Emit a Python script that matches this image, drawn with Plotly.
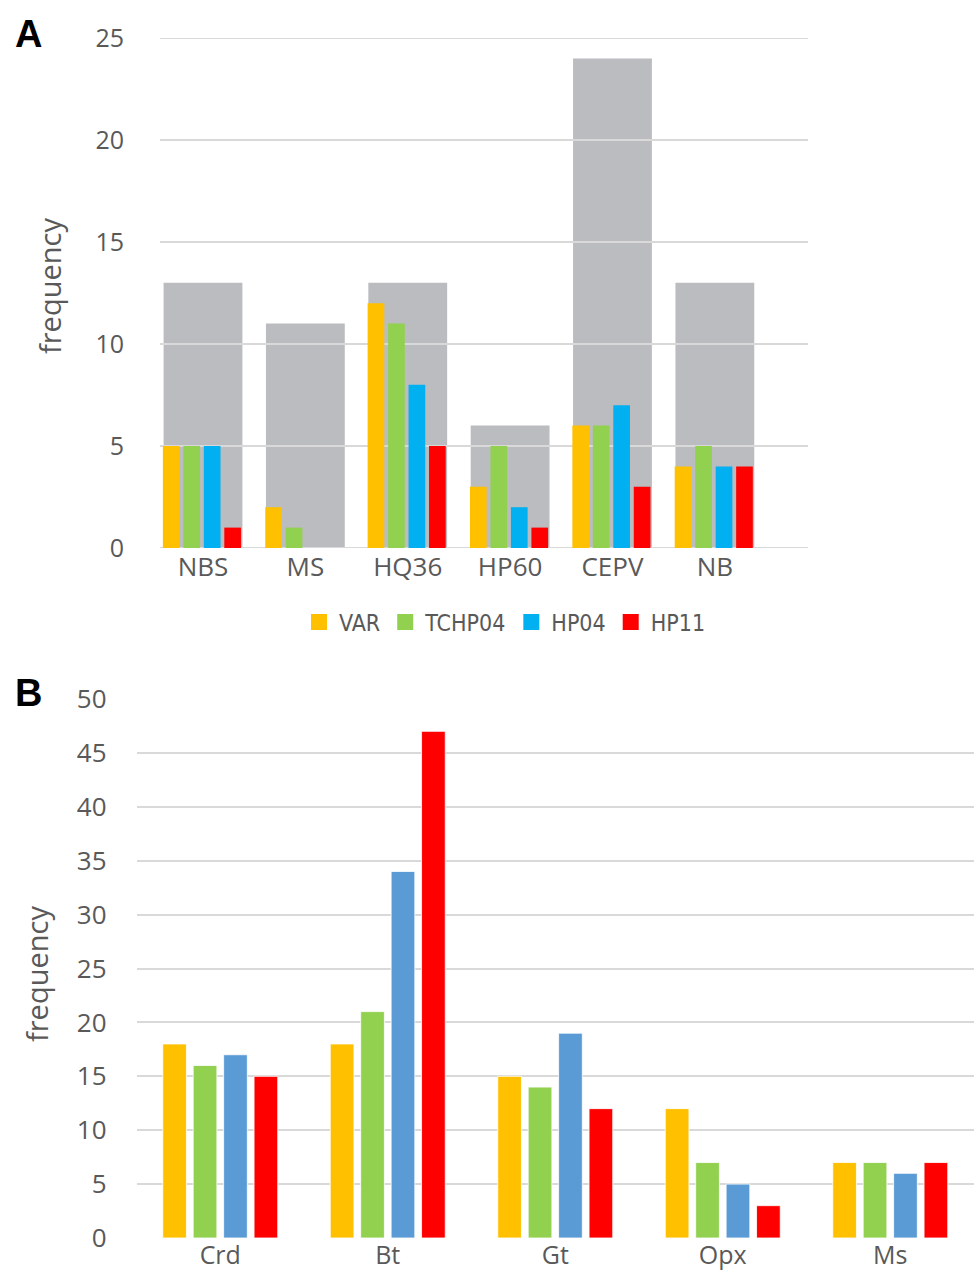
import plotly.graph_objects as go

# ---------------- data ----------------
cats_a = ["NBS", "MS", "HQ36", "HP60", "CEPV", "NB"]
total_a = [13, 11, 13, 6, 24, 13]
var_a = [5, 2, 12, 3, 6, 4]
tchp04_a = [5, 1, 11, 5, 6, 5]
hp04_a = [5, 0, 8, 2, 7, 4]
hp11_a = [1, 0, 5, 1, 3, 4]
yticks_a = [0, 5, 10, 15, 20, 25]

cats_b = ["Crd", "Bt", "Gt", "Opx", "Ms"]
var_b = [18, 18, 15, 12, 7]
tchp04_b = [16, 21, 14, 7, 7]
hp04_b = [17, 34, 19, 5, 6]
hp11_b = [15, 47, 12, 3, 7]
yticks_b = [0, 5, 10, 15, 20, 25, 30, 35, 40, 45, 50]

series_names = ["VAR", "TCHP04", "HP04", "HP11"]
colors_a = ["#FFC000", "#92D050", "#00B0F0", "#FF0000"]
colors_b = ["#FFC000", "#92D050", "#5B9BD5", "#FF0000"]
gray = "#BBBCBF"
grid = "#D9D9D9"
txt = "#595959"

W, H = 975, 1273
def py(p):  # pixel from top -> paper fraction
    return 1 - p / H
def px(p):
    return p / W

xa_range = [-0.42, 5.91]
xb_range = [-0.5, 4.5]

fig = go.Figure()

# ---------- panel A ----------
xa = list(range(len(cats_a)))
fig.add_trace(go.Bar(x=xa, y=total_a, width=0.77, offset=-0.385,
                     marker=dict(color=gray, line=dict(width=0)),
                     showlegend=False, xaxis="x", yaxis="y", hoverinfo="skip"))
# gridlines drawn above the grey bars (below the coloured ones)
gx, gy = [], []
for t in yticks_a:
    gx += [xa_range[0], xa_range[1], None]
    gy += [t, t, None]
fig.add_trace(go.Scatter(x=gx, y=gy, mode="lines", line=dict(color=grid, width=2),
                         showlegend=False, hoverinfo="skip", cliponaxis=False,
                         xaxis="x", yaxis="y"))
vals_a = [var_a, tchp04_a, hp04_a, hp11_a]
for k, (name, vals, c) in enumerate(zip(series_names, vals_a, colors_a)):
    fig.add_trace(go.Bar(x=xa, y=vals, name=name, width=0.163,
                         offset=-0.392 + k * 0.2,
                         marker=dict(color=c, line=dict(width=0)),
                         showlegend=False, xaxis="x3", yaxis="y"))
    fig.add_trace(go.Scatter(x=[None], y=[None], mode="markers", name=name,
                             marker=dict(symbol="square", size=20, color=c),
                             showlegend=True, xaxis="x3", yaxis="y"))

# ---------- panel B ----------
xb = list(range(len(cats_b)))
vals_b = [var_b, tchp04_b, hp04_b, hp11_b]
for k, (name, vals, c) in enumerate(zip(series_names, vals_b, colors_b)):
    fig.add_trace(go.Bar(x=xb, y=vals, name=name, width=0.1415,
                         offset=-0.3433 + k * 0.1817,
                         marker=dict(color=c, line=dict(width=1, color="rgba(255,255,255,0.8)")),
                         showlegend=False, xaxis="x2", yaxis="y2"))

tickfont_a = dict(family="Open Sans", size=25, color=txt)
tickfont_b = dict(family="Open Sans", size=26, color=txt)

fig.update_layout(
    width=W, height=H,
    margin=dict(l=0, r=0, t=0, b=0, pad=0, autoexpand=False),
    paper_bgcolor="white", plot_bgcolor="rgba(0,0,0,0)",
    barmode="overlay",
    showlegend=True,
    legend=dict(orientation="h", x=px(505), xanchor="center", y=py(622), yanchor="middle",
                font=dict(family="Liberation Sans Narrow, DejaVu Sans Condensed, sans-serif",
                          size=23, color=txt),
                itemsizing="trace", itemclick=False, tracegroupgap=0,
                bgcolor="rgba(0,0,0,0)"),
    xaxis=dict(domain=[px(160), px(808)], range=xa_range, anchor="y",
               tickvals=xa, ticktext=cats_a, showgrid=False, zeroline=False,
               showline=False, ticks="", tickfont=dict(family="Open Sans", size=26, color=txt),
               ticklabelstandoff=1, fixedrange=True, automargin=False),
    xaxis3=dict(overlaying="x", range=xa_range, anchor="y", visible=False, fixedrange=True),
    yaxis=dict(domain=[py(548), py(38)], range=[0, 25], anchor="x",
               tickvals=yticks_a, showgrid=False, zeroline=False, showline=False,
               ticks="", tickfont=tickfont_a, ticklabelstandoff=35, fixedrange=True,
               automargin=False),
    xaxis2=dict(domain=[px(136.5), px(974)], range=xb_range, anchor="y2",
                tickvals=xb, ticktext=cats_b, showgrid=False, zeroline=False,
                showline=False, ticks="", tickfont=dict(family="Open Sans", size=25, color=txt),
                ticklabelstandoff=0, fixedrange=True, automargin=False),
    yaxis2=dict(domain=[py(1238), py(699)], range=[0, 50], anchor="x2",
                tickvals=yticks_b, showgrid=True, gridcolor=grid, gridwidth=2,
                zeroline=False, showline=False, ticks="", tickfont=tickfont_b,
                ticklabelstandoff=29, fixedrange=True, automargin=False),
    annotations=[
        dict(text="<b>A</b>", x=px(13), y=py(34), xref="paper", yref="paper",
             xanchor="left", yanchor="middle", showarrow=False,
             font=dict(family="Liberation Sans", size=38, color="black")),
        dict(text="<b>B</b>", x=px(13), y=py(693), xref="paper", yref="paper",
             xanchor="left", yanchor="middle", showarrow=False,
             font=dict(family="Liberation Sans", size=38, color="black")),
        dict(text="frequency", x=px(49), y=py(286), xref="paper", yref="paper",
             xanchor="center", yanchor="middle", showarrow=False, textangle=-90,
             font=dict(family="Open Sans", size=29, color=txt)),
        dict(text="frequency", x=px(36), y=py(974), xref="paper", yref="paper",
             xanchor="center", yanchor="middle", showarrow=False, textangle=-90,
             font=dict(family="Open Sans", size=29, color=txt)),
    ],
)

fig.write_html("out.html", config={"displayModeBar": False},
               post_script="document.body.style.margin='0';document.body.style.overflow='hidden';")
